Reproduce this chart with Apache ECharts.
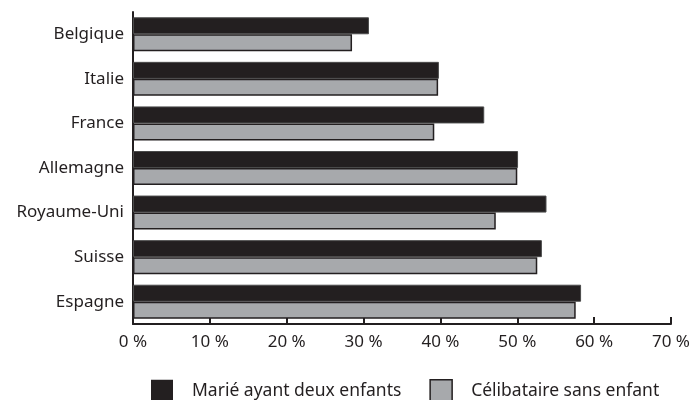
<!DOCTYPE html>
<html><head><meta charset="utf-8">
<script src="https://cdn.jsdelivr.net/npm/echarts@6/dist/echarts.min.js"></script>
<style>html,body{margin:0;padding:0;background:#fff}#c{width:693px;height:400px}</style>
</head><body><div id="c"></div>
<script>
var categories = ['Belgique','Italie','France','Allemagne','Royaume-Uni','Suisse','Espagne'];
var marie = [30.7, 39.8, 45.7, 50.1, 53.8, 53.2, 58.3];
var celib = [28.5, 39.7, 39.2, 50.0, 47.2, 52.6, 57.6];
var seriesNames = ['Marié ayant deux enfants','Célibataire sans enfant'];
var xTicks = [0,10,20,30,40,50,60,70];

var font = 'Noto Sans';
var chart = echarts.init(document.getElementById('c'), null, {renderer:'canvas'});
chart.setOption({
  animation:false,
  backgroundColor:'#fff',
  grid:{left:133,right:20,top:12,bottom:76,containLabel:false},
  legend:{
    left:146, top:374, padding:5, itemWidth:22, itemHeight:22, itemGap:28,
    icon:'rect',
    textStyle:{fontFamily:font,fontSize:17.5,color:'#231f20',padding:[0,0,0,14]},
    data:[
      {name:seriesNames[0],itemStyle:{color:'#231f20',borderWidth:0}},
      {name:seriesNames[1],itemStyle:{color:'#a7a9ac',borderColor:'#231f20',borderWidth:1.5}}
    ]
  },
  xAxis:{
    type:'value', min:xTicks[0], max:xTicks[xTicks.length-1], interval:10,
    axisLine:{show:true,lineStyle:{color:'#231f20',width:2}},
    axisTick:{show:true,inside:true,length:7,lineStyle:{color:'#231f20',width:2}},
    splitLine:{show:false},
    axisLabel:{fontFamily:font,fontSize:17,color:'#231f20',margin:10,
      formatter:function(v){return v+'\u00a0%';}}
  },
  yAxis:{
    type:'category', data:categories, inverse:true,
    axisLine:{show:true,lineStyle:{color:'#231f20',width:2}},
    axisTick:{show:false},
    axisLabel:{fontFamily:font,fontSize:17,color:'#231f20',margin:9}
  },
  series:[
    {name:seriesNames[0],type:'bar',data:marie,barWidth:17,barGap:'0%',
     itemStyle:{color:'#231f20',borderColor:'#4a4a4a',borderWidth:1}},
    {name:seriesNames[1],type:'bar',data:celib,barWidth:17,barGap:'0%',
     itemStyle:{color:'#a7a9ac',borderColor:'#231f20',borderWidth:1.5}}
  ]
});
</script></body></html>
